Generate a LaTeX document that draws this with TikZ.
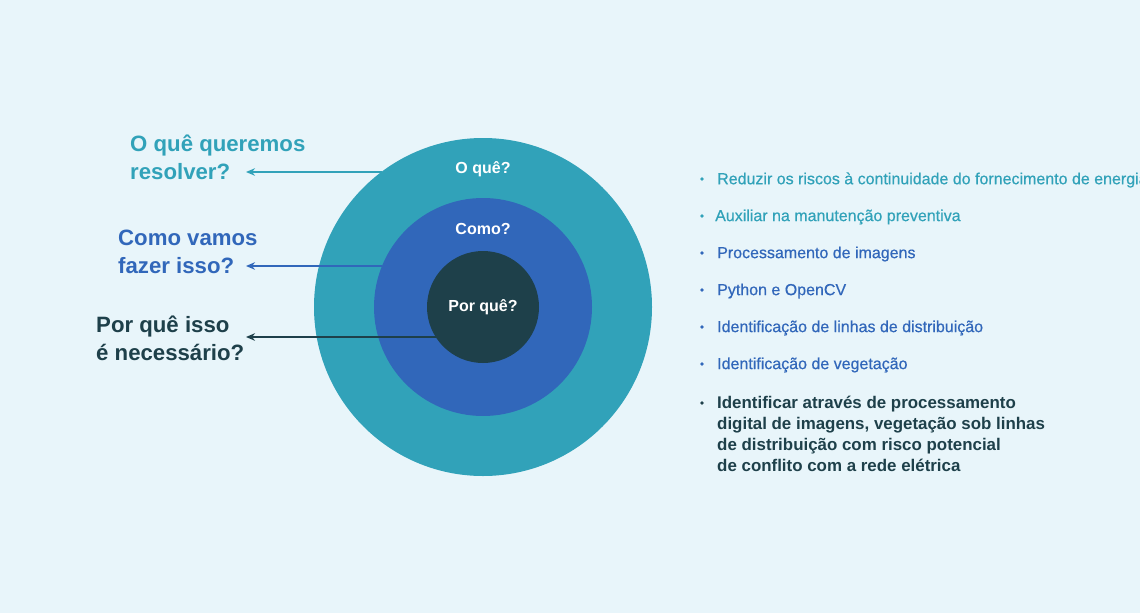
\documentclass[tikz,border=0pt]{standalone}
\usepackage{fontspec}
\setmainfont{Liberation Sans}
\newfontfamily\medfont[FakeBold=0.5]{Liberation Sans}
\newfontfamily\boldfam{Liberation Sans Bold}
\usetikzlibrary{arrows.meta}
\definecolor{bg}{HTML}{E8F5FA}
\definecolor{tealc}{HTML}{31A2B9}
\definecolor{bluec}{HTML}{3167BA}
\definecolor{darkc}{HTML}{1E404A}
\tikzset{
  ring/.style={circle, inner sep=0pt, minimum size=#1},
  ringlabel/.style={text=white, font=\fontsize{16}{19}\selectfont\bfseries},
  question/.style={anchor=west, align=left, inner sep=0pt, font=\fontsize{22.2}{28}\selectfont\bfseries},
  item/.style={anchor=west, inner sep=0pt, font=\fontsize{16}{21}\selectfont\medfont},
  bolditem/.style={anchor=north west, inner sep=0pt, align=left, font=\fontsize{16.9}{21}\selectfont\boldfam},
  bullet/.style={circle, fill=#1, inner sep=0pt, minimum size=3.8pt},
  pointer/.style={draw=#1, line width=1.5pt, -{Stealth[length=9pt,width=7.5pt]}},
}
\begin{document}
\begin{tikzpicture}[x=1pt,y=-1pt]
\fill[bg] (0,0) rectangle (1140,613);
\useasboundingbox (0,0) rectangle (1140,613);
% rings
\node[ring=338pt, fill=tealc] (outer) at (483,307) {};
\node[ring=218pt, fill=bluec] (middle) at (483,307) {};
\node[ring=112pt, fill=darkc] (inner) at (483,307) {};
\node[ringlabel] (lq) at (483,169) {O quê?};
\node[ringlabel] (lc) at (483,229) {Como?};
\node[ringlabel] (lp) at (483,307) {Por quê?};
% questions
\node[question, text=tealc] (q1) at (130,157) {O quê queremos\\resolver?};
\node[question, text=bluec] (q2) at (118,252) {Como vamos\\fazer isso?};
\node[question, text=darkc] (q3) at (96,338) {Por quê isso\\é necessário?};
% arrow endpoints
\coordinate (s1) at (381.5,172);
\coordinate (s2) at (382,266);
\coordinate (s3) at (436,337);
\coordinate (t1) at (246,172);
\coordinate (t2) at (246,266);
\coordinate (t3) at (246,337);
\draw[pointer=tealc] (s1) -- (t1);
\draw[pointer=bluec] (s2) -- (t2);
\draw[pointer=darkc] (s3) -- (t3);
% list
\node[bullet=tealc] (b1) at (702,179) {};
\node[item, text=tealc] (i1) at (717,180) {Reduzir os riscos à continuidade do fornecimento de energia};
\node[bullet=tealc] (b2) at (702,216) {};
\node[item, text=tealc] (i2) at (715,217) {Auxiliar na manutenção preventiva};
\node[bullet=bluec] (b3) at (702,253) {};
\node[item, text=bluec] (i3) at (717,254) {Processamento de imagens};
\node[bullet=bluec] (b4) at (702,290) {};
\node[item, text=bluec] (i4) at (717,291) {Python e OpenCV};
\node[bullet=bluec] (b5) at (702,327) {};
\node[item, text=bluec] (i5) at (717,328) {Identificação de linhas de distribuição};
\node[bullet=bluec] (b6) at (702,364) {};
\node[item, text=bluec] (i6) at (717,365) {Identificação de vegetação};
\node[bullet=darkc] (b7) at (702,403) {};
\node[bolditem, text=darkc] (i7) at (717,396) {Identificar através de processamento\\digital de imagens, vegetação sob linhas\\de distribuição com risco potencial\\de conflito com a rede elétrica};
\end{tikzpicture}
\end{document}
